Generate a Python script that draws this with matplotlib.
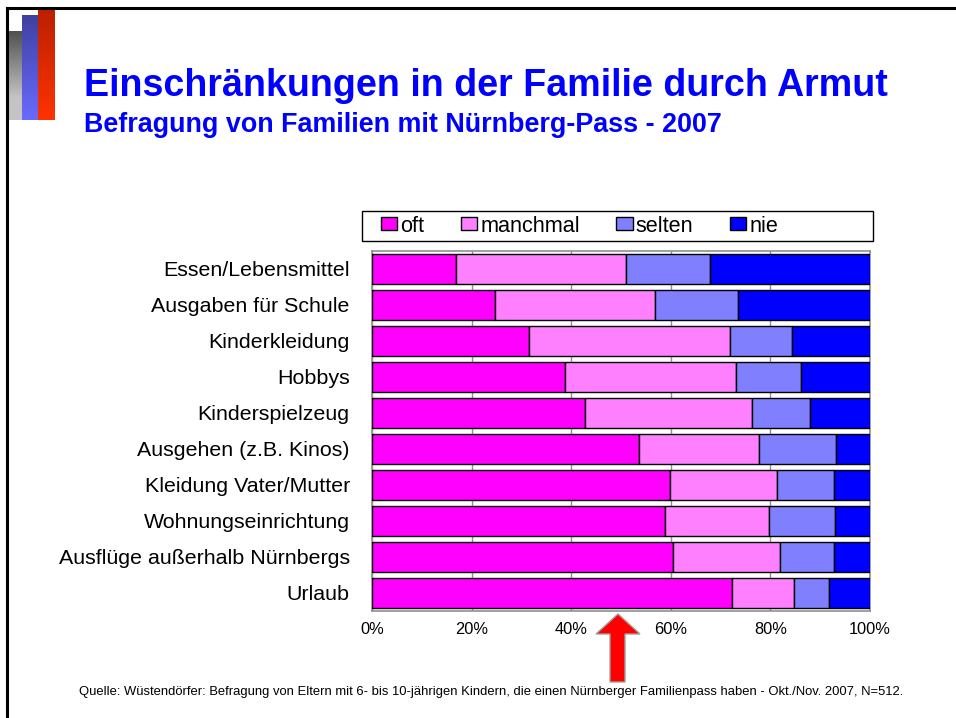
import matplotlib
matplotlib.use("Agg")
import matplotlib.pyplot as plt
import numpy as np
from matplotlib.patches import Polygon, Rectangle
from matplotlib.colors import LinearSegmentedColormap
from matplotlib.ticker import FuncFormatter

plt.rcParams['font.family'] = ['Liberation Sans', 'DejaVu Sans']

categories = ["Essen/Lebensmittel", "Ausgaben für Schule", "Kinderkleidung", "Hobbys",
              "Kinderspielzeug", "Ausgehen (z.B. Kinos)", "Kleidung Vater/Mutter",
              "Wohnungseinrichtung", "Ausflüge außerhalb Nürnbergs", "Urlaub"]
oft      = [16.8, 24.6, 31.5, 38.7, 42.8, 53.6, 59.9, 58.8, 60.4, 72.2]
manchmal = [34.3, 32.2, 40.4, 34.3, 33.6, 24.2, 21.4, 20.9, 21.5, 12.5]
selten   = [16.7, 16.7, 12.4, 13.2, 11.5, 15.4, 11.5, 13.3, 10.8,  7.1]
nie      = [32.2, 26.5, 15.7, 13.8, 12.1,  6.8,  7.2,  7.0,  7.3,  8.2]
series_names = ["oft", "manchmal", "selten", "nie"]
xticks = [0, 20, 40, 60, 80, 100]

title = "Einschränkungen in der Familie durch Armut"
subtitle = "Befragung von Familien mit Nürnberg-Pass - 2007"
source = ("Quelle: Wüstendörfer: Befragung von Eltern mit 6- bis 10-jährigen Kindern, "
          "die einen Nürnberger Familienpass haben - Okt./Nov. 2007, N=512.")

colors = ["#FF00FF", "#FF80FF", "#8080FF", "#0000FF"]

W, H = 956, 718
fig = plt.figure(figsize=(W / 100, H / 100), dpi=100)

def fx(px):
    return px / W

def fy(py):
    return 1 - py / H

# decorative gradient bars
def grad_bar(x0, x1, y0, y1, c_top, c_bot, stop=1.0):
    ax_ = fig.add_axes([fx(x0), fy(y1), fx(x1 - x0), (y1 - y0) / H])
    cmap = LinearSegmentedColormap.from_list("g", [(0, c_top), (stop, c_bot), (1, c_bot)])
    g = np.linspace(0, 1, 256).reshape(-1, 1)
    ax_.imshow(g, cmap=cmap, aspect="auto", extent=[0, 1, 1, 0])
    ax_.set_axis_off()

grad_bar(8, 22, 31, 120, "#505050", "#c4c4c4", 0.75)
grad_bar(22, 38, 15, 120, "#4040a0", "#6a6aff", 1.0)
grad_bar(38, 55, 7, 120, "#b82000", "#ff3300", 1.0)

# slide border lines
fig.add_artist(plt.Line2D([fx(7), fx(7)], [fy(8), 0], color="black", lw=2.2))
fig.add_artist(plt.Line2D([fx(7), 1], [fy(8), fy(8)], color="black", lw=2.2))

# titles
fig.text(fx(84), fy(86), title, color="#0000FF", fontsize=27.1, fontweight="bold",
         va="center", ha="left")
fig.text(fx(84), fy(125), subtitle, color="#0000FF", fontsize=19.4, fontweight="bold",
         va="center", ha="left")

# main chart
ax = fig.add_axes([fx(372), fy(611), fx(498), 360 / H])
y = np.arange(len(categories))
left = np.zeros(len(categories))
handles = []
for name, vals, col in zip(series_names, [oft, manchmal, selten, nie], colors):
    b = ax.barh(y, vals, left=left, height=0.86, color=col, edgecolor="black",
                linewidth=1.0, label=name, zorder=3)
    handles.append(b)
    left = left + np.array(vals)

ax.set_xlim(0, 100)
ax.set_ylim(len(categories) - 0.5, -0.5)
ax.set_yticks(y)
ax.set_yticklabels(categories, fontsize=15.4)
ax.set_xticks(xticks)
ax.xaxis.set_major_formatter(FuncFormatter(lambda v, p: f"{int(v)}%"))
ax.tick_params(axis="x", length=0, pad=8, labelsize=11.8)
ax.tick_params(axis="y", length=0, pad=16)
ax.grid(axis="x", color="#909090", lw=1, zorder=0)
for s in ax.spines.values():
    s.set_color("#909090")
    s.set_linewidth(1.2)

# legend frame (wide box) + legend entries packed at the left
fig.add_artist(Rectangle((fx(362), fy(241)), fx(873 - 362), 30 / H, transform=fig.transFigure,
                         facecolor="white", edgecolor="black", linewidth=1.0))
leg = fig.legend(handles=handles, labels=series_names, loc="center left",
                 bbox_to_anchor=(fx(381), fy(226)), ncol=4, fontsize=15.6,
                 frameon=False,
                 handlelength=0.75, handleheight=0.55, handletextpad=0.15,
                 columnspacing=1.68, borderpad=0.0, borderaxespad=0)

# red arrow (annotation)
arrow_px = [(618, 614), (640, 634), (625, 634), (625, 682), (610, 682), (610, 634), (596, 634)]
arrow = Polygon([(fx(px), fy(py)) for px, py in arrow_px], closed=True,
                facecolor="#FF0000", edgecolor="#a0a0a0", linewidth=1.0,
                transform=fig.transFigure)
fig.add_artist(arrow)

fig.text(fx(79), fy(692), source, fontsize=9.4, ha="left", va="center", color="black")

fig.savefig("out.png", dpi=100)
